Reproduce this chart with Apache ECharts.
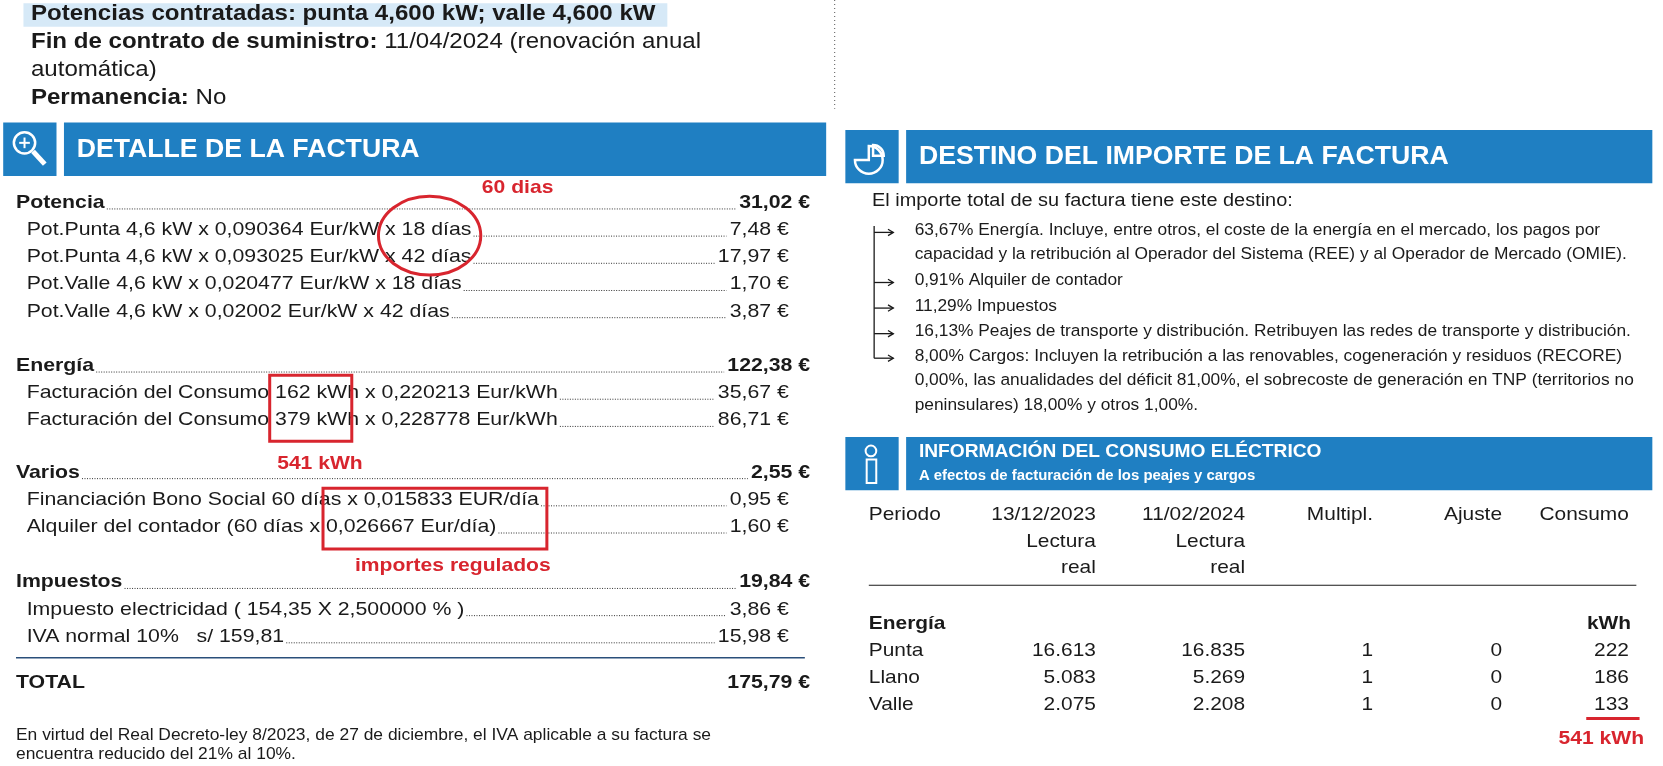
<!DOCTYPE html>
<html><head><meta charset="utf-8">
<script src="https://cdn.jsdelivr.net/npm/echarts@6/dist/echarts.min.js"></script>
<style>html,body{margin:0;background:#fff}#c{width:1663px;height:766px}</style>
</head><body><div id="c"></div>
<script>
// ---- data ----
const topLines = [
  ["Potencias contratadas: punta 4,600 kW; valle 4,600 kW", ""],
  ["Fin de contrato de suministro:", " 11/04/2024 (renovación anual"],
  ["", "automática)"],
  ["Permanencia:", " No"]
];
const detailSections = [
  {title:"Potencia", total:"31,02 €", y:190, items:[
    ["Pot.Punta 4,6 kW x 0,090364 Eur/kW x 18 días","7,48 €"],
    ["Pot.Punta 4,6 kW x 0,093025 Eur/kW x 42 días","17,97 €"],
    ["Pot.Valle 4,6 kW x 0,020477 Eur/kW x 18 días","1,70 €"],
    ["Pot.Valle 4,6 kW x 0,02002 Eur/kW x 42 días","3,87 €"]]},
  {title:"Energía", total:"122,38 €", y:343, items:[
    ["Facturación del Consumo 162 kWh x 0,220213 Eur/kWh","35,67 €"],
    ["Facturación del Consumo 379 kWh x 0,228778 Eur/kWh","86,71 €"]]},
  {title:"Varios", total:"2,55 €", y:443, items:[
    ["Financiación Bono Social 60 días x 0,015833 EUR/día","0,95 €"],
    ["Alquiler del contador (60 días x 0,026667 Eur/día)","1,60 €"]]},
  {title:"Impuestos", total:"19,84 €", y:546, items:[
    ["Impuesto electricidad ( 154,35 X 2,500000 % )","3,86 €"],
    ["IVA normal 10%   s/ 159,81","15,98 €"]]}
];
const totalLabel = "TOTAL", totalValue = "175,79 €";
const footer = ["En virtud del Real Decreto-ley 8/2023, de 27 de diciembre, el IVA aplicable a su factura se",
                "encuentra reducido del 21% al 10%."];
const destIntro = "El importe total de su factura tiene este destino:";
const destLines = [
  [true,"63,67% Energía. Incluye, entre otros, el coste de la energía en el mercado, los pagos por"],
  [false,"capacidad y la retribución al Operador del Sistema (REE) y al Operador de Mercado (OMIE)."],
  [true,"0,91% Alquiler de contador"],
  [true,"11,29% Impuestos"],
  [true,"16,13% Peajes de transporte y distribución. Retribuyen las redes de transporte y distribución."],
  [true,"8,00% Cargos: Incluyen la retribución a las renovables, cogeneración y residuos (RECORE)"],
  [false,"0,00%, las anualidades del déficit 81,00%, el sobrecoste de generación en TNP (territorios no"],
  [false,"peninsulares) 18,00% y otros 1,00%."]
];
const tableHead = [["Periodo","",""],["13/12/2023","Lectura","real"],["11/02/2024","Lectura","real"],["Multipl.","",""],["Ajuste","",""],["Consumo","",""]];
const periods = ["Punta","Llano","Valle"];
const lectura1 = ["16.613","5.083","2.075"];
const lectura2 = ["16.835","5.269","2.208"];
const multipl = ["1","1","1"];
const ajuste = ["0","0","0"];
const consumo = ["222","186","133"];
const annotations = ["60 dias","541 kWh","importes regulados","541 kWh"];

// ---- drawing ----
const k = 1663/1560;
const S = v => v*k;
const FONT = "Liberation Sans, Arial, sans-serif";
const BLUE = "#1f7fc2", DARK="#1a1a1a", RED="#d8252e";
const cv = document.createElement('canvas').getContext('2d');
function tw(t, size, bold, sx){cv.font=(bold?"bold ":"")+S(size)+"px "+FONT;return cv.measureText(t).width/k*(sx||1);}
const g = [];
function txt(x,y,t,size,opt={}){
  g.push({type:'text',x:S(x),y:S(y),scaleX:opt.sx||1,style:{x:0,y:0,text:t,fill:opt.fill||DARK,font:(opt.bold?"bold ":"")+S(size)+"px "+FONT,
    textAlign:opt.align||'left',textVerticalAlign:'middle'}});
}
function line(x1,y1,x2,y2,opt={}){
  g.push({type:'line',shape:{x1:S(x1),y1:S(y1),x2:S(x2),y2:S(y2)},style:{stroke:opt.stroke||DARK,lineWidth:opt.w||1,lineDash:opt.dash||null}});
}
function rect(x,y,w,h,opt){g.push({type:'rect',shape:{x:S(x),y:S(y),width:S(w),height:S(h)},style:opt});}

// top
const TS=20, TX=1.13;
rect(22,3,604,22,{fill:'#d6e9f7'});
topLines.forEach((l,i)=>{
  const y=13+i*26.5;
  txt(29,y,l[0],TS,{bold:true,sx:TX});
  txt(29+tw(l[0],TS,true,TX),y,l[1],TS,{sx:TX});
});
line(783,0,783,102,{stroke:'#555',dash:[1,3]});

// headers
function header(ix,iy,bx,bw,h,title,size){
  rect(ix,iy,50,h,{fill:BLUE});rect(bx,iy,bw,h,{fill:BLUE});
  txt(bx+12,iy+h/2,title,size,{bold:true,fill:'#fff'});
}
header(3,115,60,715,50,"DETALLE DE LA FACTURA",25);
g.push({type:'circle',shape:{cx:S(23),cy:S(134),r:S(10)},style:{stroke:'#fff',lineWidth:2.5,fill:null}});
line(31,142,42,154,{stroke:'#fff',w:5});line(18,134,28,134,{stroke:'#fff',w:2});line(23,129,23,139,{stroke:'#fff',w:2});
header(793,122,850,700,50,"DESTINO DEL IMPORTE DE LA FACTURA",25);
g.push({type:'sector',shape:{cx:S(815),cy:S(150),r:S(13),r0:0,startAngle:-Math.PI/2,endAngle:Math.PI},style:{stroke:'#fff',lineWidth:2.5,fill:null}});
g.push({type:'sector',shape:{cx:S(819),cy:S(146),r:S(10),r0:0,startAngle:-Math.PI/2,endAngle:0},style:{stroke:'#fff',lineWidth:2.5,fill:null}});
rect(793,410,50,50,{fill:BLUE});rect(850,410,700,50,{fill:BLUE});
txt(862,424,"INFORMACIÓN DEL CONSUMO ELÉCTRICO",18,{bold:true,fill:'#fff'});
txt(862,446,"A efectos de facturación de los peajes y cargos",14,{bold:true,fill:'#fff'});
g.push({type:'circle',shape:{cx:S(817),cy:S(423),r:S(5)},style:{stroke:'#fff',lineWidth:2,fill:null}});
rect(813,431,9,22,{fill:null,stroke:'#fff',lineWidth:2});

// detail rows
const BS=18, BX=1.11;
function leader(x1,x2,y){ if(x2>x1+4) line(x1+2,y+6,x2-3,y+6,{dash:[1,1.5],stroke:'#333'}); }
detailSections.forEach(sec=>{
  txt(15,sec.y,sec.title,BS,{bold:true,sx:BX});
  txt(760,sec.y,sec.total,BS,{bold:true,align:'right',sx:BX});
  leader(15+tw(sec.title,BS,true,BX), 760-tw(sec.total,BS,true,BX), sec.y);
  sec.items.forEach((it,i)=>{
    const y=sec.y+25.5*(i+1);
    txt(25,y,it[0],BS,{sx:BX});
    txt(740,y,it[1],BS,{align:'right',sx:BX});
    leader(25+tw(it[0],BS,false,BX), 740-tw(it[1],BS,false,BX), y);
  });
});
line(15,617,755,617,{stroke:'#2a4f7a',w:1.5});
txt(15,640,totalLabel,BS,{bold:true,sx:BX});
txt(760,640,totalValue,BS,{bold:true,align:'right',sx:BX});
footer.forEach((f,i)=>txt(15,690+i*18,f,15,{sx:1.09}));

// annotations
const AS=18, AX=1.1;
g.push({type:'ellipse',shape:{cx:S(403),cy:S(221),rx:S(48),ry:S(37)},style:{stroke:RED,lineWidth:3,fill:null}});
txt(452,176,annotations[0],AS,{bold:true,fill:RED,sx:AX});
rect(253,352,77,62,{fill:null,stroke:RED,lineWidth:3});
txt(260,435,annotations[1],AS,{bold:true,fill:RED,sx:AX});
rect(303,458,210,57,{fill:null,stroke:RED,lineWidth:3});
txt(333,531,annotations[2],AS,{bold:true,fill:RED,sx:AX});

// destino
txt(818,189,destIntro,17,{sx:1.1});
let ys=[218,241,265,289,313,336,359,382];
line(820,212,820,336,{w:1.3});
destLines.forEach((d,i)=>{
  if(d[0]){line(820,ys[i],838,ys[i],{w:1.3});
    g.push({type:'polyline',shape:{points:[[S(833),S(ys[i]-3)],[S(838),S(ys[i])],[S(833),S(ys[i]+3)]]},style:{stroke:DARK,lineWidth:1.3,fill:null}});}
  txt(858,ys[i]-2,d[1],15.5,{sx:1.05});
});

// table
const TBS=18, TBX=1.09;
const colX=[815,1028,1168,1288,1409,1528];
tableHead.forEach((h,i)=>h.forEach((t,j)=>{ if(t) txt(colX[i],483+j*25,t,TBS,{align:i==0?'left':'right',sx:TBX}); }));
line(815,549,1535,549,{w:1.2});
txt(815,585,"Energía",TBS,{bold:true,sx:TBX});
txt(1530,585,"kWh",TBS,{bold:true,align:'right',sx:TBX});
periods.forEach((p,i)=>{
  const y=610+i*25.5;
  txt(815,y,p,TBS,{sx:TBX});
  [lectura1,lectura2,multipl,ajuste,consumo].forEach((arr,j)=>txt(colX[j+1],y,arr[i],TBS,{align:'right',sx:TBX}));
});
line(1488,674,1538,674,{stroke:RED,w:3});
txt(1462,693,annotations[3],AS,{bold:true,fill:RED,sx:AX});

const chart = echarts.init(document.getElementById('c'));
chart.setOption({animation:false,graphic:{elements:g}});
</script></body></html>
